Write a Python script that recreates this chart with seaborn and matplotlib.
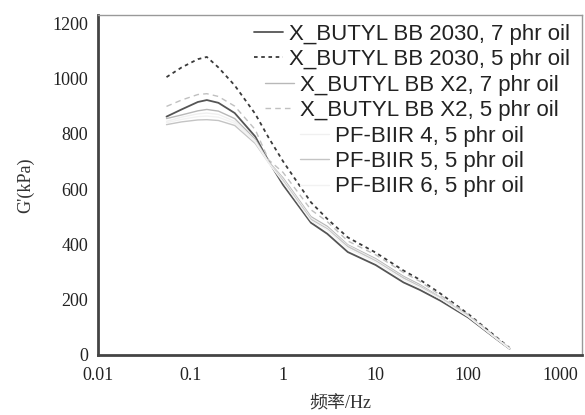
import numpy as np
import pandas as pd
import matplotlib
matplotlib.use("Agg")
import matplotlib.pyplot as plt
import seaborn as sns

sns.set_style("white")
plt.rcParams['font.family'] = ['Liberation Serif', 'Noto Sans CJK SC']

# frequency (Hz) and G' (kPa)
freq = [0.055, 0.08, 0.12, 0.15, 0.2, 0.3, 0.5, 0.7, 1, 2, 3, 5, 10, 20, 30, 50, 100, 200, 280]

bb2030_7 = [862, 888, 915, 922, 912, 875, 790, 700, 615, 478, 438, 372, 325, 262, 235, 196, 135, 58, 22]
bb2030_5 = [1005, 1040, 1070, 1078, 1040, 975, 872, 785, 700, 552, 492, 425, 370, 305, 272, 222, 148, 65, 25]
bbx2_7 = [855, 868, 883, 888, 882, 855, 780, 698, 640, 500, 465, 398, 348, 284, 254, 208, 141, 61, 23]
bbx2_5 = [899, 922, 942, 945, 935, 900, 815, 705, 660, 525, 482, 412, 362, 298, 266, 216, 145, 63, 24]
pf4 = [845, 860, 872, 875, 870, 845, 775, 696, 635, 495, 460, 395, 344, 280, 250, 206, 140, 60, 23]
pf5 = [833, 843, 850, 851, 848, 830, 765, 695, 630, 490, 456, 392, 340, 278, 248, 205, 139, 60, 23]
pf6 = [840, 852, 862, 864, 860, 838, 770, 694, 625, 485, 452, 385, 336, 272, 244, 203, 138, 59, 22]

labels = ["X_BUTYL BB 2030, 7 phr oil", "X_BUTYL BB 2030, 5 phr oil",
          "X_BUTYL BB X2, 7 phr oil", "X_BUTYL BB X2, 5 phr oil",
          "PF-BIIR 4, 5 phr oil", "PF-BIIR 5, 5 phr oil", "PF-BIIR 6, 5 phr oil"]
series = [bb2030_7, bb2030_5, bbx2_7, bbx2_5, pf4, pf5, pf6]

styles = [("#555555", "-", 1.3), ("#3a3a3a", (0, (2, 2)), 1.3),
          ("#b8b8b8", "-", 1.0), ("#c0c0c0", (0, (4, 3)), 1.0),
          ("#f0f0f0", "-", 1.0), ("#c4c4c4", "-", 1.0),
          ("#f2f2f2", "-", 1.0)]

fig = plt.figure(figsize=(5.85, 4.15), dpi=100)
ax = fig.add_axes([0.1675, 0.145, 0.8275, 0.819])

for lab, vals, (c, ls, lw) in zip(labels, series, styles):
    df = pd.DataFrame({"f": freq, "g": vals})
    sns.lineplot(data=df, x="f", y="g", ax=ax, color=c, linestyle=ls,
                 linewidth=lw, label=lab)

ax.set_xscale("log")
ax.set_xlim(0.01, 1700)
ax.set_ylim(0, 1230)
ax.set_xticks([0.01, 0.1, 1, 10, 100, 1000])
ax.set_xticklabels(["0.01", "0.1", "1", "10", "100", "1000"])
ax.set_yticks([0, 200, 400, 600, 800, 1000, 1200])
ax.tick_params(axis="both", length=0, labelsize=13, colors="#222222", pad=7)
ax.tick_params(axis="x", pad=9)
ax.minorticks_off()

ax.set_xlabel("频率/Hz", fontsize=13, color="#333333", labelpad=8)
ax.set_ylabel("G'(kPa)", fontsize=13, color="#333333", labelpad=13)

for s in ["left", "bottom"]:
    ax.spines[s].set_color("#444444")
    ax.spines[s].set_linewidth(2)
for s in ["top", "right"]:
    ax.spines[s].set_color("#999999")
    ax.spines[s].set_linewidth(1)

leg = ax.legend(loc="upper right", bbox_to_anchor=(0.994, 1.0),
                frameon=False, handlelength=1.3, handletextpad=0.3,
                labelspacing=0.2, borderaxespad=0,
                prop={"family": "Liberation Sans", "size": 16})
for t in leg.get_texts():
    t.set_color("#222222")
for col in leg._legend_handle_box.get_children():
    col.align = "center"

fig.savefig("out.png", dpi=100)
